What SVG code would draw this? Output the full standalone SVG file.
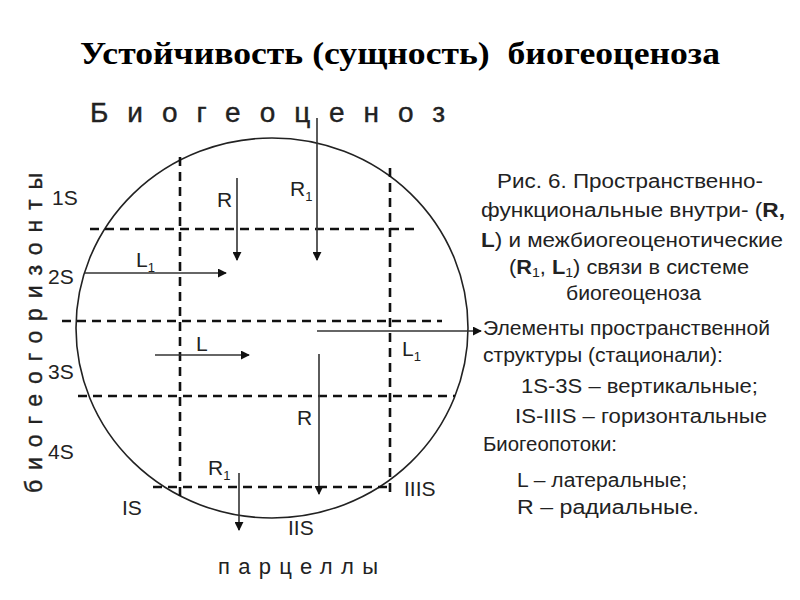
<svg xmlns="http://www.w3.org/2000/svg" width="800" height="600" viewBox="0 0 800 600">
<defs>
<style>
.t{font-family:"Liberation Sans",Arial,sans-serif;fill:#222}
.lab{font-family:"Liberation Sans",Arial,sans-serif;font-size:21px;fill:#222}
.cap{font-family:"Liberation Sans",Arial,sans-serif;font-size:20px;fill:#222}
.d{stroke:#111;stroke-width:2.6;stroke-dasharray:9 6;fill:none}
.a{stroke:#333;stroke-width:1.6;fill:none;marker-end:url(#ah)}
.sub{font-size:13px;fill:#222}
</style>
<marker id="ah" viewBox="0 0 10 10" refX="9" refY="5" markerWidth="9" markerHeight="9" markerUnits="userSpaceOnUse" orient="auto">
<path d="M0,0 L10,5 L0,10 z" fill="#111"/>
</marker>
</defs>
<rect width="800" height="600" fill="#fff"/>
<text x="80" y="64" textLength="640" lengthAdjust="spacingAndGlyphs" style="font-family:'Liberation Serif','Times New Roman',serif;font-weight:bold;font-size:32px;fill:#000;white-space:pre">Устойчивость (сущность)  биогеоценоза</text>

<g id="biogeocenoz">
<ellipse cx="272" cy="328" rx="196" ry="190" fill="none" stroke="#222" stroke-width="1.6"/>
<text class="t" x="90" y="122" font-size="28" stroke="#222" stroke-width="0.4" textLength="355" lengthAdjust="spacing">Биогеоценоз</text>
</g>

<g id="grid">
<line class="d" x1="180" y1="157" x2="180" y2="497"/>
<line class="d" x1="390" y1="168" x2="390" y2="494"/>
<line class="d" x1="90" y1="229" x2="414" y2="229"/>
<line class="d" x1="62" y1="321" x2="442" y2="321"/>
<line class="d" x1="78" y1="396" x2="455" y2="396"/>
<line class="d" x1="153" y1="487" x2="393" y2="487"/>
</g>

<g id="connectors">
<line class="a" x1="237" y1="178" x2="237" y2="260"/>
<line class="a" x1="317" y1="118" x2="317" y2="260"/>
<line class="a" x1="85" y1="273" x2="226" y2="273"/>
<line class="a" x1="155" y1="355" x2="249" y2="355"/>
<line class="a" x1="317" y1="331" x2="481" y2="331"/>
<line class="a" x1="319" y1="354" x2="319" y2="494"/>
<line class="a" x1="239" y1="473" x2="239" y2="530"/>
</g>

<g id="flow-labels">
<text class="lab" x="217" y="207">R</text>
<text class="lab" x="290" y="196">R<tspan class="sub" dy="5">1</tspan></text>
<text class="lab" x="136" y="267">L<tspan class="sub" dy="5">1</tspan></text>
<text class="lab" x="196" y="351">L</text>
<text class="lab" x="402" y="356">L<tspan class="sub" dy="5">1</tspan></text>
<text class="lab" x="297" y="425">R</text>
<text class="lab" x="208" y="475">R<tspan class="sub" dy="5">1</tspan></text>
</g>

<g id="stations">
<text class="lab" x="52" y="205">1S</text>
<text class="lab" x="48" y="284">2S</text>
<text class="lab" x="48" y="379">3S</text>
<text class="lab" x="48" y="459">4S</text>
<text class="lab" x="122" y="515">IS</text>
<text class="lab" x="288" y="535">IIS</text>
<text class="lab" x="404" y="496">IIIS</text>
</g>

<g id="axis-labels">
<text class="t" transform="translate(42,493) rotate(-90)" font-size="23" stroke="#222" stroke-width="0.4" textLength="320" lengthAdjust="spacing">биогеогоризонты</text>
<text class="t" x="218" y="574" font-size="22" textLength="160" lengthAdjust="spacing">парцеллы</text>
</g>

<g id="caption" class="cap">
<text x="497" y="188" textLength="266" lengthAdjust="spacingAndGlyphs">Рис. 6. Пространственно-</text>
<text x="481" y="217" textLength="304" lengthAdjust="spacingAndGlyphs">функциональные внутри- (<tspan font-weight="bold">R,</tspan></text>
<text x="481" y="247" textLength="302" lengthAdjust="spacingAndGlyphs"><tspan font-weight="bold">L</tspan>) и межбиогеоценотические</text>
<text x="509" y="274" textLength="240" lengthAdjust="spacingAndGlyphs">(<tspan font-weight="bold">R</tspan><tspan class="sub" dy="3">1</tspan><tspan dy="-3">, </tspan><tspan font-weight="bold">L</tspan><tspan class="sub" dy="3">1</tspan><tspan dy="-3">) связи в системе</tspan></text>
<text x="566" y="300" textLength="135" lengthAdjust="spacingAndGlyphs">биогеоценоза</text>
<text x="483" y="335" textLength="287" lengthAdjust="spacingAndGlyphs">Элементы пространственной</text>
<text x="483" y="362" textLength="240" lengthAdjust="spacingAndGlyphs">структуры (стационали):</text>
<text x="521" y="393" textLength="237" lengthAdjust="spacingAndGlyphs">1S-3S – вертикальные;</text>
<text x="515" y="423" textLength="252" lengthAdjust="spacingAndGlyphs">IS-IIIS – горизонтальные</text>
<text x="483" y="451" textLength="134" lengthAdjust="spacingAndGlyphs">Биогеопотоки:</text>
<text x="517" y="487" textLength="170" lengthAdjust="spacingAndGlyphs">L – латеральные;</text>
<text x="517" y="514" textLength="182" lengthAdjust="spacingAndGlyphs">R – радиальные.</text>
</g>
</svg>
